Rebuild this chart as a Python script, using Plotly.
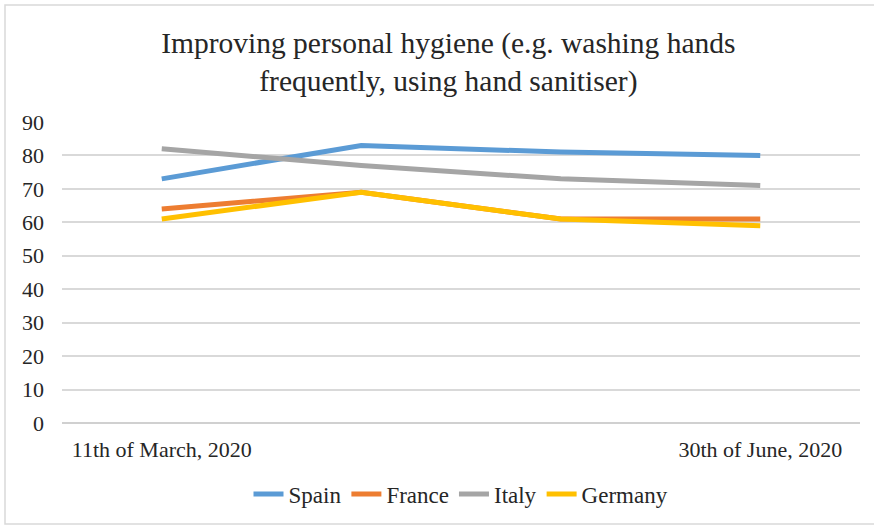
import plotly.graph_objects as go

categories = ["11th of March, 2020", "", "", "30th of June, 2020"]
spain = [73, 83, 81, 80]
france = [64, 69, 61, 61]
italy = [82, 77, 73, 71]
germany = [61, 69, 61, 59]
y_ticks = [0, 10, 20, 30, 40, 50, 60, 70, 80, 90]

series = [
    ("Spain", spain, "#5B9BD5"),
    ("France", france, "#ED7D31"),
    ("Italy", italy, "#A5A5A5"),
    ("Germany", germany, "#FFC000"),
]

x = list(range(len(categories)))
fig = go.Figure()
for name, vals, color in series:
    fig.add_trace(go.Scatter(x=x, y=vals, name=name, mode="lines",
                             line=dict(color=color, width=5)))

font_family = "Liberation Serif"
fig.update_layout(
    width=874, height=528,
    margin=dict(l=62, r=14, t=121, b=105),
    paper_bgcolor="white", plot_bgcolor="white",
    font=dict(family=font_family, color="#404040", size=20),
    title=dict(text="Improving personal hygiene (e.g. washing hands<br>frequently, using hand sanitiser)",
               x=0.513, xanchor="center", y=0.9, yanchor="middle",
               font=dict(family=font_family, size=29.5, color="#262626")),
    showlegend=True,
    legend=dict(orientation="h", x=0.5, xanchor="center", y=-0.235, yanchor="middle",
                font=dict(family=font_family, size=23, color="#262626"),
                itemwidth=30, tracegroupgap=0),
    xaxis=dict(tickmode="array", tickvals=x, ticktext=categories,
               range=[-0.5, len(categories) - 0.5], showgrid=False, zeroline=False,
               showline=False, ticks="", ticklabelstandoff=11,
               tickfont=dict(family=font_family, size=22, color="#262626")),
    yaxis=dict(range=[0, 90.3], tickvals=y_ticks, showgrid=True, gridcolor="#D9D9D9",
               gridwidth=1.5, zeroline=True, zerolinecolor="#D0D0D0", zerolinewidth=1.5,
               showline=False, ticks="", ticklabelstandoff=17,
               tickfont=dict(family=font_family, size=22, color="#262626")),
    shapes=[dict(type="rect", xref="paper", yref="paper",
                 x0=(5 - 62) / 798, x1=(880 - 62) / 798,
                 y0=(423 - 524) / 302, y1=(423 - 5) / 302,
                 line=dict(color="#D9D9D9", width=1.5), fillcolor="rgba(0,0,0,0)")],
)

fig.write_html("out.html")
